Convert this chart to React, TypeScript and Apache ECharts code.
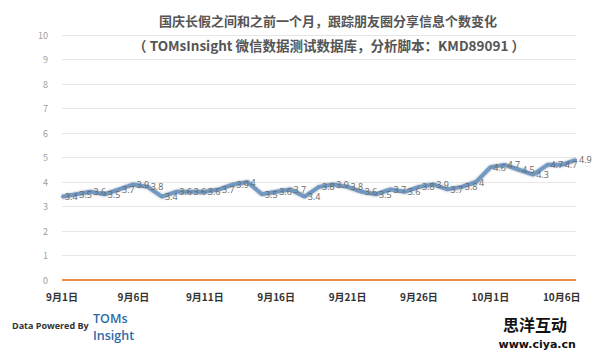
import React, { useEffect, useRef } from "react";
import * as echarts from "echarts";

const categories: string[] = [
  "9月1日","9月2日","9月3日","9月4日","9月5日","9月6日","9月7日","9月8日","9月9日","9月10日",
  "9月11日","9月12日","9月13日","9月14日","9月15日","9月16日","9月17日","9月18日","9月19日","9月20日",
  "9月21日","9月22日","9月23日","9月24日","9月25日","9月26日","9月27日","9月28日","9月29日","9月30日",
  "10月1日","10月2日","10月3日","10月4日","10月5日","10月6日","10月7日",
];

const shareCounts: number[] = [
  3.4, 3.5, 3.6, 3.5, 3.7, 3.9, 3.8, 3.4, 3.6, 3.6,
  3.6, 3.7, 3.9, 4, 3.5, 3.6, 3.7, 3.4, 3.8, 3.9,
  3.8, 3.6, 3.5, 3.7, 3.6, 3.8, 3.9, 3.7, 3.8, 4,
  4.6, 4.7, 4.5, 4.3, 4.7, 4.7, 4.9,
];

const baseline: number[] = categories.map(() => 0);

const titleLine1 = "国庆长假之间和之前一个月，跟踪朋友圈分享信息个数变化";
const titleLine2 = "（ TOMsInsight 微信数据测试数据库，分析脚本：KMD89091 ）";

export default function App() {
  const ref = useRef<HTMLDivElement>(null);
  useEffect(() => {
    if (!ref.current) return;
    const chart = echarts.init(ref.current, null, { renderer: "svg" });
    chart.setOption({
      animation: false,
      backgroundColor: "#ffffff",
      textStyle: { fontFamily: "'Noto Sans CJK SC', 'Open Sans', sans-serif" },
      title: [
        {
          text: titleLine1,
          left: 323,
          top: 9,
          textAlign: "center",
          textStyle: { fontSize: 13, fontWeight: "bold", color: "#555555", fontFamily: "'Noto Sans CJK SC', sans-serif" },
        },
        {
          text: titleLine2,
          left: 324,
          top: 33,
          textAlign: "center",
          textStyle: { fontSize: 13.5, fontWeight: "bold", color: "#555555", fontFamily: "'Noto Sans CJK SC', 'Open Sans', sans-serif" },
        },
      ],
      grid: { left: 62, right: 27, top: 35, bottom: 74 },
      xAxis: {
        type: "category",
        data: categories,
        boundaryGap: false,
        axisLine: { show: false },
        axisTick: { show: false },
        axisLabel: {
          interval: 4,
          margin: 11,
          fontSize: 10,
          fontWeight: "bold",
          color: "#333333",
          fontFamily: "'Noto Sans CJK SC', sans-serif",
        },
      },
      yAxis: {
        type: "value",
        min: 0,
        max: 10,
        interval: 1,
        axisLine: { show: false },
        axisTick: { show: false },
        axisLabel: { fontSize: 9, color: "#a0a0a0", margin: 14 },
        splitLine: { lineStyle: { color: "#e6e6e6", width: 1 } },
      },
      series: [
        {
          type: "line",
          data: baseline,
          symbol: "none",
          lineStyle: { color: "#ed8a45", width: 2 },
          itemStyle: { color: "#ed8a45" },
          z: 2,
        },
        {
          type: "line",
          data: shareCounts,
          symbol: "circle",
          symbolSize: 2,
          itemStyle: { color: "#6e93bb" },
          lineStyle: {
            color: "#7199c2",
            width: 4,
            shadowColor: "rgba(50,70,100,0.45)",
            shadowBlur: 2,
          },
          label: {
            show: true,
            position: "right",
            distance: 2,
            fontSize: 9,
            color: "#666666",
            fontFamily: "'Open Sans', sans-serif",
          },
          z: 3,
        },
      ],
      graphic: [
        {
          type: "text",
          left: 12,
          top: 321,
          style: { text: "Data Powered By", fontSize: 9, fontWeight: "bold", fill: "#333333", fontFamily: "'Open Sans', sans-serif" },
        },
        {
          type: "text",
          left: 93,
          top: 312,
          style: { text: "TOMs", fontSize: 12.5, fontWeight: 600, fill: "#2e6aa6", fontFamily: "'Open Sans', sans-serif" },
        },
        {
          type: "text",
          left: 93,
          top: 329,
          style: { text: "Insight", fontSize: 12.5, fontWeight: 600, fill: "#2e6aa6", fontFamily: "'Open Sans', sans-serif" },
        },
        {
          type: "text",
          left: 503,
          top: 316,
          style: { text: "思洋互动", fontSize: 16, fontWeight: "bold", fill: "#111111", fontFamily: "'Noto Sans CJK SC', sans-serif" },
        },
        {
          type: "text",
          left: 498,
          top: 338,
          style: { text: "www.ciya.cn", fontSize: 11, fontWeight: "bold", fill: "#111111", stroke: "#ffffff", lineWidth: 1, fontFamily: "'DejaVu Sans', sans-serif" },
        },
      ],
    });
    return () => chart.dispose();
  }, []);
  return <div ref={ref} style={{ width: 603, height: 354, position: "absolute", left: 0, top: 0 }} />;
}
